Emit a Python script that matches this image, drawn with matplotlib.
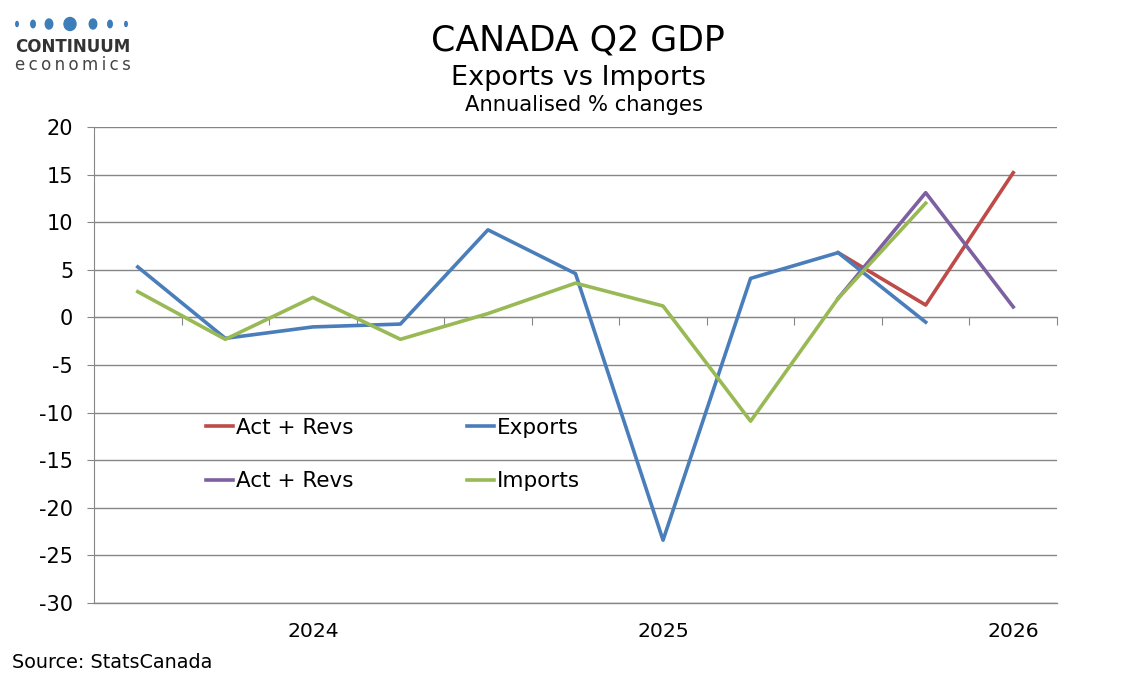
import numpy as np
import matplotlib
matplotlib.use("Agg")
import matplotlib.pyplot as plt
from matplotlib.patches import Ellipse
import matplotlib.transforms as mtransforms

plt.rcParams["font.family"] = ["DejaVu Sans"]
plt.rcParams["axes.unicode_minus"] = False

# ---- data (annualised % q/q changes), 2023Q3 .. 2026Q1 ----
quarters = ["2023Q3", "2023Q4", "2024Q1", "2024Q2", "2024Q3", "2024Q4",
            "2025Q1", "2025Q2", "2025Q3", "2025Q4", "2026Q1"]
exports = [5.3, -2.2, -1.0, -0.7, 9.2, 4.6, -23.4, 4.1, 6.8, -0.5, np.nan]
imports = [2.7, -2.3, 2.1, -2.3, 0.4, 3.6, 1.2, -10.9, 2.0, 12.0, np.nan]
exp_revs = [np.nan] * 8 + [6.8, 1.3, 15.2]
imp_revs = [np.nan] * 8 + [2.0, 13.1, 1.1]
year_labels = ["2024", "2025", "2026"]
year_pos = [2, 6, 10]

red, blue, purple, green = "#BE4B48", "#4A7EBB", "#7D60A0", "#98B954"
grid = "#868686"

fig = plt.figure(figsize=(11.34, 6.8), dpi=100)
ax = fig.add_axes([94 / 1134, 1 - 603 / 680, (1057 - 94) / 1134, (603 - 127) / 680])

x = np.arange(len(quarters))
lw = 2.6
l_red, = ax.plot(x, exp_revs, color=red, lw=lw, label="Act + Revs", zorder=3)
l_pur, = ax.plot(x, imp_revs, color=purple, lw=lw, label="Act + Revs", zorder=3)
l_blu, = ax.plot(x, exports, color=blue, lw=lw, label="Exports", zorder=4)
l_grn, = ax.plot(x, imports, color=green, lw=lw, label="Imports", zorder=5)

ax.set_xlim(-0.5, len(quarters) - 0.5)
ax.set_ylim(-30, 20)
ax.set_yticks(np.arange(-30, 21, 5))
ax.yaxis.grid(True, color=grid, lw=1.0)
ax.axhline(-30, color=grid, lw=1.0, clip_on=False, zorder=1)
ax.set_axisbelow(True)
ax.tick_params(axis="y", labelsize=15, length=5, color=grid, pad=10)

# horizontal axis sits at zero, ticks at category boundaries
ax.spines["bottom"].set_position(("data", 0))
ax.spines["bottom"].set_color(grid)
ax.spines["left"].set_color(grid)
ax.spines["top"].set_visible(False)
ax.spines["right"].set_visible(False)
ax.set_xticks(np.arange(0.5, len(quarters) - 0.4, 1.0))
ax.set_xticklabels([])
ax.tick_params(axis="x", length=6, color=grid, direction="out")

trans = mtransforms.blended_transform_factory(ax.transData, ax.transAxes)
for p, lab in zip(year_pos, year_labels):
    ax.text(p, -0.06, lab, transform=trans, ha="center", va="center", fontsize=14.7)

ax.legend(handles=[l_red, l_pur, l_blu, l_grn], ncol=2, frameon=False,
          fontsize=15.5, handlelength=1.25, handletextpad=0.15,
          columnspacing=5.27, labelspacing=1.55,
          loc="center left", bbox_to_anchor=(0.096, 0.312))

# titles
fig.text(0.51, 0.94, "CANADA Q2 GDP", ha="center", va="center", fontsize=25)
fig.text(0.51, 0.885, "Exports vs Imports", ha="center", va="center", fontsize=19.5)
fig.text(0.515, 0.845, "Annualised % changes", ha="center", va="center", fontsize=15.2)

# source
fig.text(12 / 1134, 1 - 663 / 680, "Source: StatsCanada", ha="left", va="center", fontsize=13.8)

# logo
logo_col = "#3D7DB8"
dot_x = [17, 33, 49, 70, 93, 110, 126]
dot_w = [2.5, 4.5, 7.5, 12, 7.5, 4.5, 2.5]
dot_h = [5, 7.5, 10, 13, 10, 7.5, 5]
for dx, dw, dh in zip(dot_x, dot_w, dot_h):
    fig.patches.append(Ellipse((dx / 1134, 1 - 24 / 680), dw / 1134, dh / 680,
                               transform=fig.transFigure, color=logo_col))
fig.text(15 / 1134, 1 - 47 / 680, "CONTINUUM", ha="left", va="center",
         fontsize=12, fontweight="bold", color="#333333")
fig.text(15 / 1134, 1 - 65 / 680, "\u2009".join("economics"), ha="left", va="center",
         fontsize=12, color="#444444")

fig.savefig("out.png", dpi=100)
